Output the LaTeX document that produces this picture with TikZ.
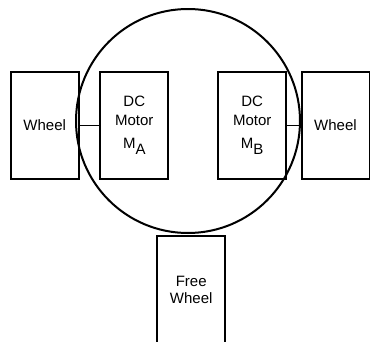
\documentclass[tikz,border=0pt]{standalone}
\usepackage{fontspec}
\setmainfont{Liberation Sans}
\begin{document}
\begin{tikzpicture}[x=1pt,y=-1pt,
  box/.style={draw, line width=2pt, minimum width=68pt, minimum height=107.5pt,
    inner sep=0pt, align=center, font=\fontsize{15}{19}\selectfont},
  body/.style={draw, circle, line width=2pt, minimum size=224pt, inner sep=0pt},
  link/.style={line width=1.8pt}]
\useasboundingbox (0,0) rectangle (370,341);
\node[body] (chassis) at (188,121) {};
\node[box] (wl) at (44.7,125.4) {Wheel};
\node[box] (ma) at (134.3,125.4) {DC\\Motor\\[3.7pt]M\raisebox{-6pt}{A}};
\node[box] (mb) at (252.2,125.4) {DC\\Motor\\[3.7pt]M\raisebox{-6pt}{B}};
\node[box] (wr) at (335.5,125.4) {Wheel};
\node[box, font=\fontsize{15}{17.6}\selectfont] (fw) at (191.2,289.8) {Free\\Wheel};
\draw[link] (wl.east) -- (ma.west);
\draw[link] (mb.east) -- (wr.west);
\end{tikzpicture}
\end{document}
